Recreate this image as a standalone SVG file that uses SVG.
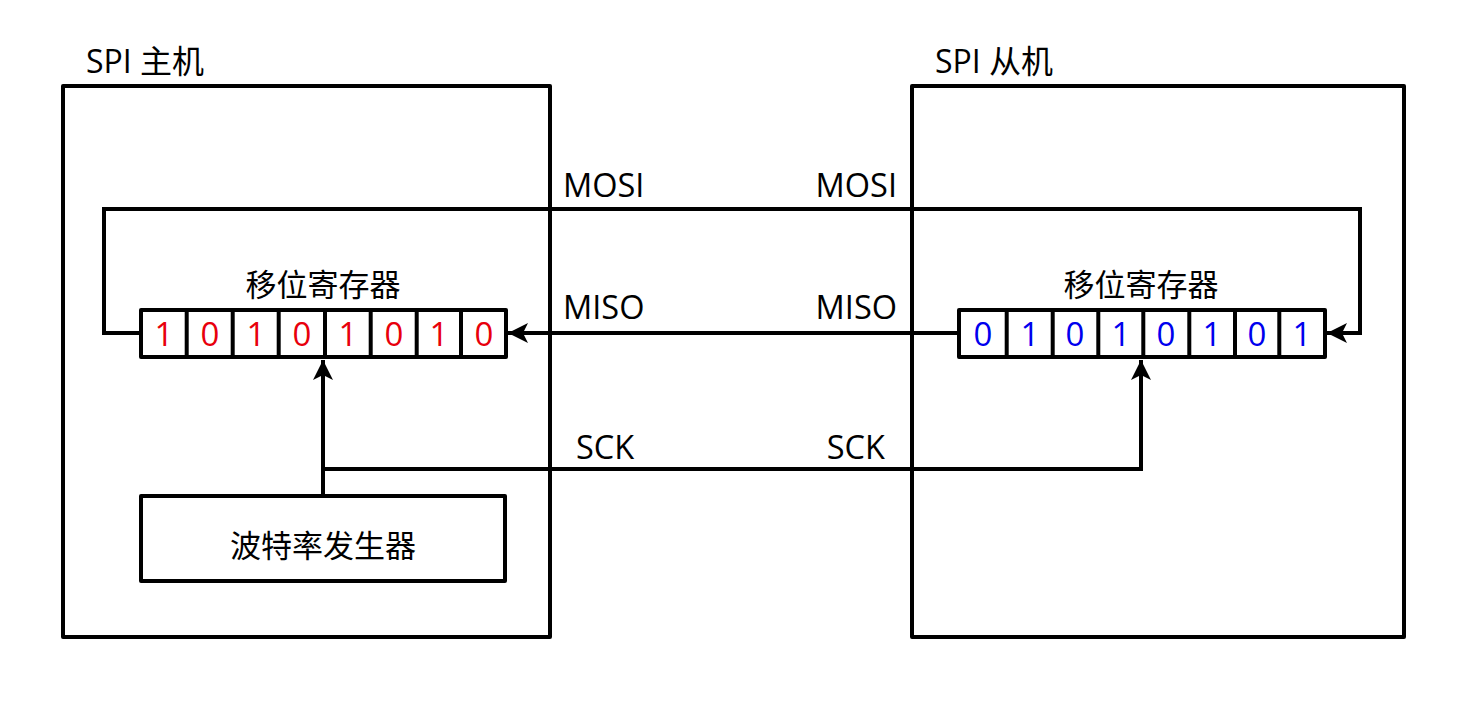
<svg xmlns="http://www.w3.org/2000/svg" width="1472" height="709" viewBox="0 0 1472 709">
<style>
.box{fill:none;stroke:#000;stroke-width:4;stroke-linejoin:round}
.cell{fill:#fff;stroke:#000;stroke-width:4;stroke-linejoin:round}
.wire{fill:none;stroke:#000;stroke-width:4;stroke-linejoin:miter}
.t{font-family:"Open Sans","Noto Sans CJK SC",sans-serif;font-size:32px;fill:#000}
.l{font-family:"Open Sans","Noto Sans CJK SC",sans-serif;font-size:32.5px;fill:#000}
.c{font-family:"Noto Sans CJK SC",sans-serif;font-size:31px;fill:#000;text-anchor:middle}
.d{font-family:"Open Sans","Noto Sans CJK SC",sans-serif;font-size:33px;text-anchor:middle}
.r{fill:#e8000b}
.b{fill:#0000ee}
</style>
<defs>
<marker id="arr" viewBox="0 0 20 20" refX="20" refY="10" markerWidth="20" markerHeight="20" markerUnits="userSpaceOnUse" orient="auto">
<path d="M0,0 L20,10 L0,20 L5,10 Z" fill="#000"/>
</marker>
</defs>
<rect width="1472" height="709" fill="#fff"/>
<g id="master">
<rect class="box" x="63" y="86" width="487" height="551"/>
<text class="t" x="86" y="73">SPI 主机</text>
</g>
<g id="slave">
<rect class="box" x="912" y="86" width="492" height="551"/>
<text class="t" x="935" y="73">SPI 从机</text>
</g>
<g id="connectors">
<path class="wire" d="M141,333 H104 V209 H1360 V333 H1327" marker-end="url(#arr)"/>
<path class="wire" d="M959,333 H508" marker-end="url(#arr)"/>
<path class="wire" d="M323,496 V360" marker-end="url(#arr)"/>
<path class="wire" d="M323,469 H1141 V360" marker-end="url(#arr)"/>
<text class="l" x="563" y="197">MOSI</text>
<text class="l" x="897" y="197" text-anchor="end">MOSI</text>
<text class="l" x="563" y="319">MISO</text>
<text class="l" x="897" y="319" text-anchor="end">MISO</text>
<text class="l" x="576" y="459">SCK</text>
<text class="l" x="885" y="459" text-anchor="end">SCK</text>
</g>
<g id="master-register">
<text class="c" x="323" y="296">移位寄存器</text>
<rect class="cell" x="141" y="310" width="365" height="47"/>
<path class="wire" d="M186.7,310V357 M232.7,310V357 M278.7,310V357 M325,310V357 M370.7,310V357 M416.7,310V357 M461,310V357"/>
<g class="d r">
<text x="164" y="346">1</text><text x="210" y="346">0</text><text x="256" y="346">1</text><text x="302" y="346">0</text>
<text x="348" y="346">1</text><text x="394" y="346">0</text><text x="439" y="346">1</text><text x="484" y="346">0</text>
</g>
</g>
<g id="slave-register">
<text class="c" x="1141" y="296">移位寄存器</text>
<rect class="cell" x="959" y="310" width="366" height="47"/>
<path class="wire" d="M1006.7,310V357 M1052.7,310V357 M1098.3,310V357 M1143.3,310V357 M1189.3,310V357 M1235,310V357 M1279.3,310V357"/>
<g class="d b">
<text x="983" y="346">0</text><text x="1030" y="346">1</text><text x="1075" y="346">0</text><text x="1121" y="346">1</text>
<text x="1166" y="346">0</text><text x="1212" y="346">1</text><text x="1257" y="346">0</text><text x="1302" y="346">1</text>
</g>
</g>
<g id="baud-generator">
<rect class="box" x="141" y="496" width="364" height="85"/>
<text class="c" x="323" y="557">波特率发生器</text>
</g>
</svg>
